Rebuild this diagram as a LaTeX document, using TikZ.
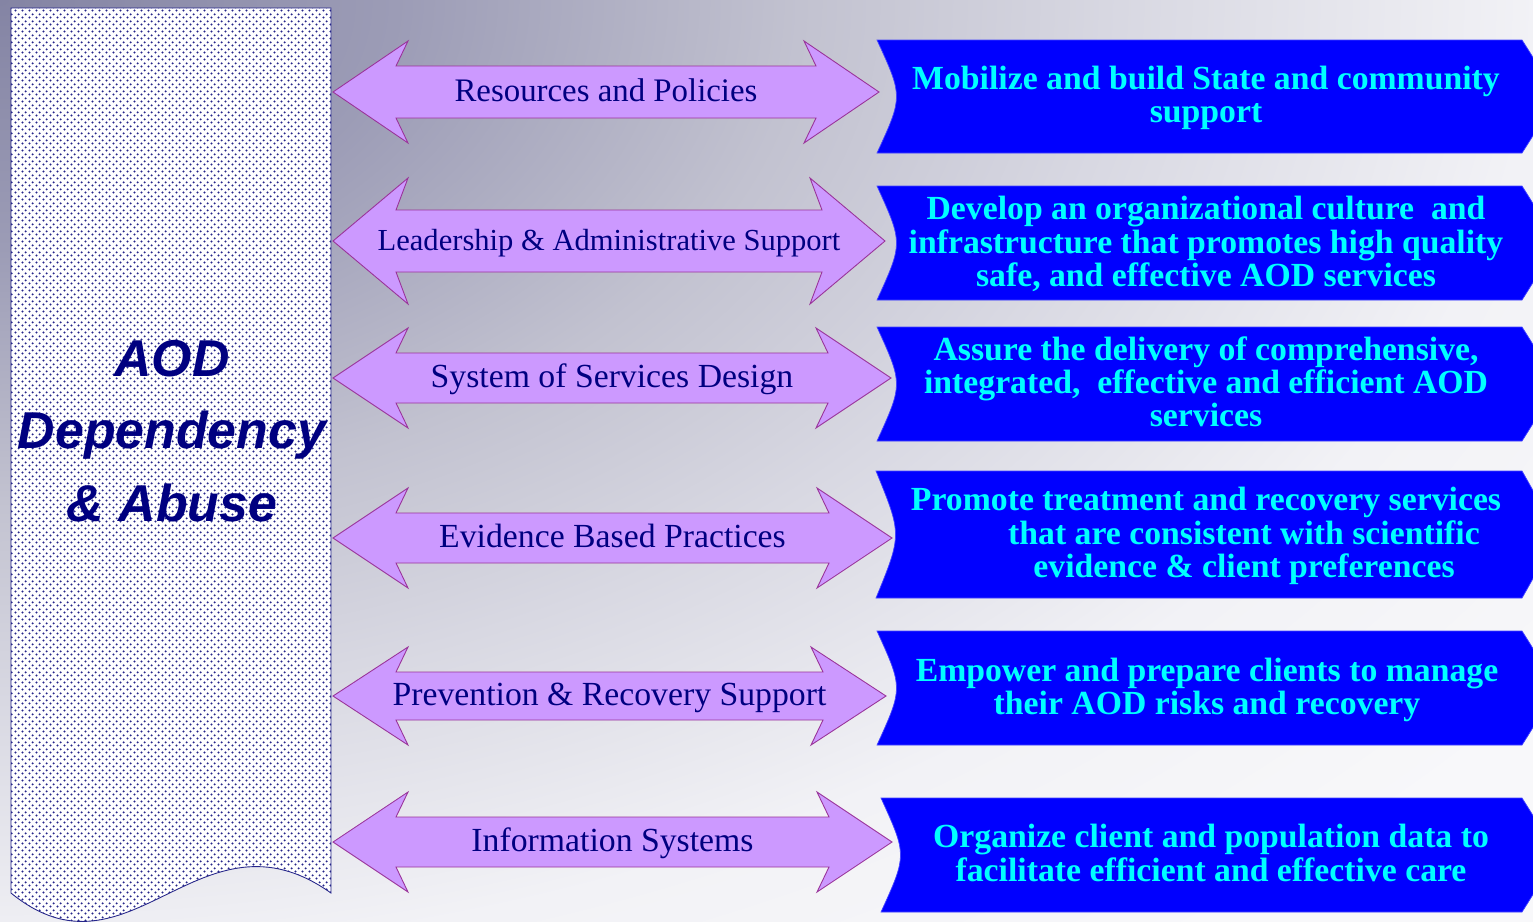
\documentclass[tikz,border=0pt]{standalone}
\usepackage{fontspec}
\setmainfont{Liberation Serif}
\newfontfamily\titlefont{Liberation Sans}
\usetikzlibrary{patterns}

\definecolor{lavender}{HTML}{CC99FF}
\definecolor{plumline}{HTML}{993399}
\definecolor{navytext}{HTML}{000080}
\definecolor{goalblue}{HTML}{0000FF}
\definecolor{goaledge}{HTML}{4444FF}
\definecolor{goalcyan}{HTML}{00FFFF}
\definecolor{dotblue}{HTML}{26268A}
\definecolor{bgA}{RGB}{132,132,164}
\definecolor{bgB}{RGB}{156,156,182}
\definecolor{bgC}{RGB}{194,194,208}
\definecolor{bgD}{RGB}{216,216,226}
\definecolor{bgE}{RGB}{242,242,246}
\definecolor{bgF}{RGB}{248,248,250}

\pgfdeclareradialshading{bgglow}{\pgfpointorigin}{color(0bp)=(bgA); color(3.1bp)=(bgB); color(6.25bp)=(bgC); color(8.75bp)=(bgD); color(12bp)=(bgE); color(15bp)=(bgF); color(50bp)=(bgF)}

\pgfdeclarepatternformonly{aoddots}{\pgfpointorigin}{\pgfqpoint{4pt}{4pt}}{\pgfqpoint{4pt}{4pt}}{
  \pgfpathcircle{\pgfqpoint{1pt}{1pt}}{.72pt}
  \pgfpathcircle{\pgfqpoint{3pt}{3pt}}{.72pt}
  \pgfusepath{fill}}

\begin{document}
\begin{tikzpicture}[x=0.02cm,y=-0.02cm,
    biarrow/.style={fill=lavender, draw=plumline, line width=0.5pt, line join=miter},
    arrowlabel/.style={text=navytext, font=\fontsize{19.2pt}{22pt}\selectfont, anchor=base, inner sep=0pt},
    goalbox/.style={fill=goalblue, draw=goaledge, line width=0.4pt},
    goaltext/.style={text=goalcyan, font=\bfseries\fontsize{19.2pt}{18.9pt}\selectfont, align=center, inner sep=0pt},
    titletext/.style={text=navytext, font=\titlefont\bfseries\itshape\fontsize{29.5pt}{41.4pt}\selectfont, align=center}]
\useasboundingbox (0,0) rectangle (1533,921);
\clip (0,0) rectangle (1533,921);

% background
\shade[shading=bgglow] (0,0) ellipse [x radius=3200, y radius=2000];

% left panel (document shape)
\draw[dotblue, line width=0.5pt, fill=white, postaction={pattern=aoddots, pattern color=dotblue}]
  (11,8) -- (331,8) -- (331,893) .. controls (200,800) and (130,990) .. (11,893) -- cycle;
\node[titletext] (aod) at (172,431) {AOD\\Dependency\\\& Abuse};

% double arrows
\foreach \yc/\xr/\hh/\sh/\nm/\txt in {
    92/879/51/26/resources/{\fontsize{18.7pt}{22pt}\selectfont Resources and Policies},
    241/885/63/31/leadership/{\fontsize{17.4pt}{22pt}\selectfont Leadership \& Administrative Support},
    378/891/50/25/design/{System of Services Design},
    538/892/50/25/evidence/{Evidence Based Practices},
    696/886/49/24/prevention/{Prevention \& Recovery Support},
    842/892/50/25/infosys/{Information Systems}}
{
  \draw[biarrow] (333,\yc) -- (408,\yc-\hh) -- (396,\yc-\sh) -- (\xr-63,\yc-\sh) -- (\xr-75,\yc-\hh)
     -- (\xr,\yc) -- (\xr-75,\yc+\hh) -- (\xr-63,\yc+\sh) -- (396,\yc+\sh) -- (408,\yc+\hh) -- cycle;
  \node[arrowlabel] (\nm) at ({(333+\xr)/2},\yc+9) {\txt};
}

% goal boxes
\foreach \yt/\yb/\xl in {40/153/877, 186/300/877, 327/441/877, 471/598/876, 631/745/877, 798/912/881}
  \draw[goalbox] (\xl,\yt) -- (1522,\yt) .. controls (1558,{(\yt+\yb)/2}) .. (1522,\yb)
     -- (\xl,\yb) .. controls (\xl+26,{(\yt+\yb)/2}) .. (\xl,\yt) -- cycle;

\node[goaltext] (mobilize) at (1206,98) {Mobilize and build State and community\\support};
\node[goaltext] (culture) at (1206,244) {Develop an organizational culture~ and\\infrastructure that promotes high quality\\safe, and effective AOD services};
\node[goaltext] (assure) at (1206,382) {Assure the delivery of comprehensive,\\integrated,~ effective and efficient AOD\\services};
\node[goaltext] (promote) at (1206,536) {Promote treatment and recovery services\\\hspace*{1.52cm}that are consistent with scientific\\\hspace*{1.52cm}evidence \& client preferences};
\node[goaltext] (empower) at (1207,690) {Empower and prepare clients to manage\\their AOD risks and recovery};
\node[goaltext] (organize) at (1211,853) {Organize client and population data to\\facilitate efficient and effective care};

\end{tikzpicture}
\end{document}
